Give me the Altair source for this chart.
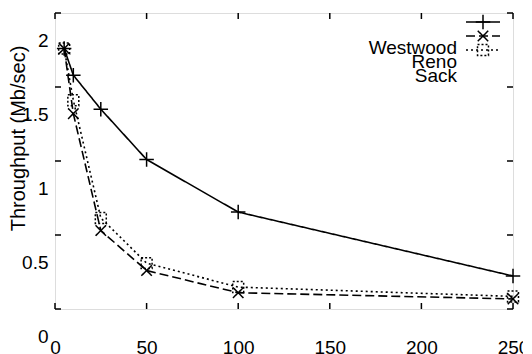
import altair as alt
import pandas as pd

# ---- data ----
x_vals = [5, 10, 25, 50, 100, 250]
westwood = [1.76, 1.58, 1.35, 1.01, 0.655, 0.223]
reno = [1.76, 1.32, 0.53, 0.26, 0.11, 0.068]
sack = [1.76, 1.41, 0.615, 0.31, 0.148, 0.085]
series_names = ["Westwood", "Reno", "Sack"]
y_ticks = [0, 0.5, 1, 1.5, 2]
x_ticks = [0, 50, 100, 150, 200, 250]
y_title = "Throughput (Mb/sec)"

W, H = 458, 296
FONT = "Liberation Sans"
FS = 19
TXT_SHIFT = 27  # the reference draws all text shifted downward

PLUS = "M-1,0L1,0M0,-1L0,1"
TIMES = "M-1,-1L1,1M-1,1L1,-1"

styles = {
    "Westwood": dict(dash=[1, 0], shape=PLUS, size=210, mdash=[1, 0]),
    "Reno": dict(dash=[9, 4], shape=TIMES, size=110, mdash=[1, 0]),
    "Sack": dict(dash=[2, 3], shape="square", size=120, mdash=[2, 2]),
}
values = {"Westwood": westwood, "Reno": reno, "Sack": sack}

xscale = alt.Scale(domain=[0, 250], nice=False, zero=False)
yscale = alt.Scale(domain=[0, 2], nice=False, zero=False)

xaxis = alt.Axis(values=x_ticks, ticks=False, domain=False, grid=False,
                 labelPadding=29, labelFontSize=FS, labelFont=FONT,
                 labelColor="black", labelFlush=False, labelOverlap=False,
                 labelBound=False, title=None)
yaxis = alt.Axis(values=y_ticks, format="~g", ticks=False, domain=False,
                 grid=False, labelPadding=7, labelFontSize=FS, labelFont=FONT,
                 labelColor="black", labelOffset=TXT_SHIFT, labelFlush=False,
                 labelOverlap=False, labelBound=False,
                 title=y_title, titleFont=FONT, titleFontSize=20,
                 titleFontWeight="normal", titleColor="black",
                 titleAngle=270, titleX=-37, titleY=125,
                 titleAlign="center", titleBaseline="middle")

X = alt.X("x:Q", scale=xscale, axis=xaxis)
Y = alt.Y("y:Q", scale=yscale, axis=yaxis)

layers = []
for name in series_names:
    st = styles[name]
    df = pd.DataFrame({"x": x_vals, "y": values[name]})
    base = alt.Chart(df)
    layers.append(base.mark_line(color="black", strokeWidth=1.6,
                                 strokeDash=st["dash"]).encode(x=X, y=Y))
    layers.append(base.mark_point(shape=st["shape"], size=st["size"],
                                  filled=False, color="black", opacity=1,
                                  strokeWidth=1.5, strokeDash=st["mdash"])
                  .encode(x=X, y=Y))

# inward tick marks on all four sides
ydf = pd.DataFrame({"y": y_ticks})
xdf = pd.DataFrame({"x": x_ticks})
TL = 6
layers.append(alt.Chart(ydf).mark_rule(color="black", strokeWidth=1.5).encode(
    y=Y, x=alt.value(0), x2=alt.value(TL)))
layers.append(alt.Chart(ydf).mark_rule(color="black", strokeWidth=1.5).encode(
    y=Y, x=alt.value(W - TL), x2=alt.value(W)))
layers.append(alt.Chart(xdf).mark_rule(color="black", strokeWidth=1.5).encode(
    x=X, y=alt.value(H - TL), y2=alt.value(H)))
layers.append(alt.Chart(xdf).mark_rule(color="black", strokeWidth=1.5).encode(
    x=X, y=alt.value(0), y2=alt.value(TL)))

# key in the top right corner
LX1, LX2, LTX = 411, 445, 402
for i, name in enumerate(series_names):
    st = styles[name]
    sy = 9 + 14 * i
    kdf = pd.DataFrame({"name": [name]})
    kb = alt.Chart(kdf)
    layers.append(kb.mark_rule(color="black", strokeWidth=1.6,
                               strokeDash=st["dash"]).encode(
        x=alt.value(LX1), x2=alt.value(LX2), y=alt.value(sy)))
    layers.append(kb.mark_point(shape=st["shape"], size=st["size"],
                                filled=False, color="black", opacity=1,
                                strokeWidth=1.5, strokeDash=st["mdash"]).encode(
        x=alt.value((LX1 + LX2) / 2), y=alt.value(sy)))
    layers.append(kb.mark_text(align="right", baseline="middle", font=FONT,
                               fontSize=FS, color="black").encode(
        x=alt.value(LTX), y=alt.value(sy + TXT_SHIFT - 1), text="name:N"))

chart = alt.layer(*layers).properties(
    width=W, height=H,
    padding={"left": 47, "top": 5, "right": 10, "bottom": 45},
    autosize=alt.AutoSizeParams(type="none"),
).configure_view(stroke="black", strokeWidth=2).configure(background="white")

chart.save("out.html", embed_options={"renderer": "svg", "actions": False})
